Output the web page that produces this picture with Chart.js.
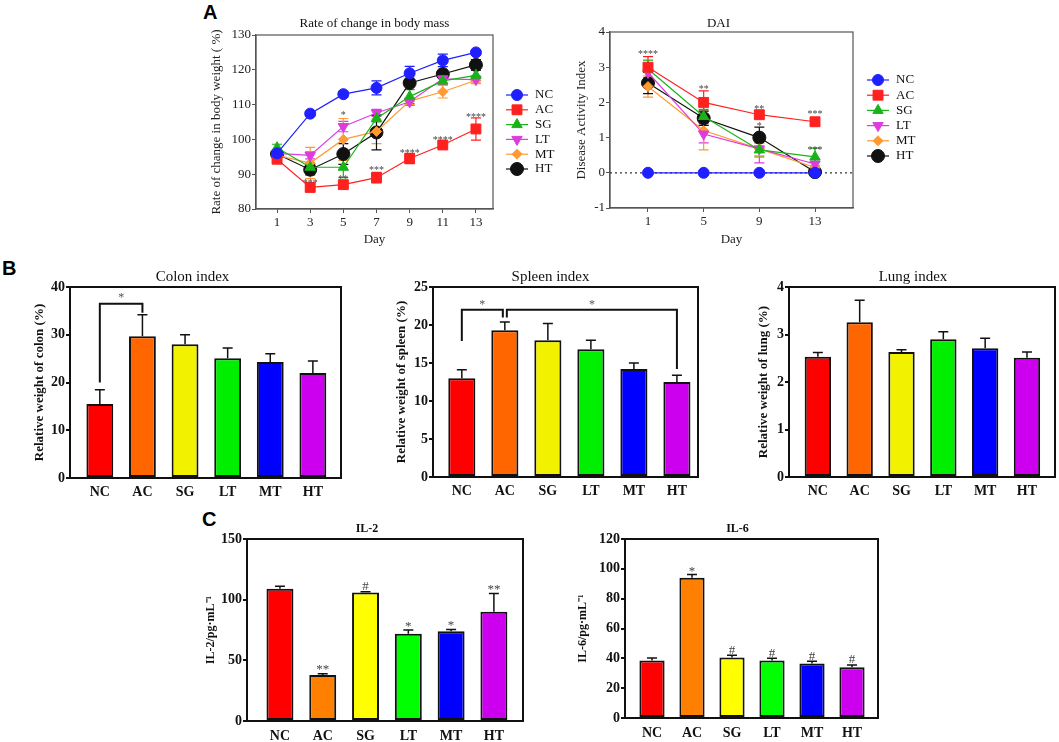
<!DOCTYPE html>
<html>
<head>
<meta charset="utf-8">
<script src="https://cdn.jsdelivr.net/npm/chart.js@4.4.1/dist/chart.umd.min.js"></script>
<style>
  body { margin: 0; background: #fff; width: 1059px; height: 742px; position: relative; overflow: hidden; }
  .box { position: absolute; }
  .tag { position: absolute; font: bold 20px "Liberation Sans", Arial, sans-serif; line-height: 20px; color: #000; }
</style>
</head>
<body>
<div class="tag" style="left:203px;top:2px">A</div>
<div class="tag" style="left:2px;top:258px">B</div>
<div class="tag" style="left:202px;top:509px">C</div>

<div class="box" style="left:205px;top:10px;width:360px;height:237px"><canvas id="body"></canvas></div>
<div class="box" style="left:570px;top:10px;width:360px;height:237px"><canvas id="dai"></canvas></div>
<div class="box" style="left:28px;top:262px;width:320px;height:238px"><canvas id="colon"></canvas></div>
<div class="box" style="left:390px;top:262px;width:315px;height:238px"><canvas id="spleen"></canvas></div>
<div class="box" style="left:752px;top:262px;width:307px;height:238px"><canvas id="lung"></canvas></div>
<div class="box" style="left:200px;top:515px;width:330px;height:227px"><canvas id="il2"></canvas></div>
<div class="box" style="left:572px;top:515px;width:313px;height:227px"><canvas id="il6"></canvas></div>

<script>
// groups
const GROUPS = ['NC', 'AC', 'SG', 'LT', 'MT', 'HT'];

// A - rate of change in body mass (%)
const BODY_DAYS = [1, 3, 5, 7, 9, 11, 13];
const BODY_NC = [96, 107.4, 113, 114.8, 119, 122.7, 125];
const BODY_AC = [94.3, 86.2, 87, 89, 94.5, 98.4, 103];
const BODY_SG = [97.6, 92, 92, 106, 112.3, 116.8, 118.4];
const BODY_LT = [96, 95.4, 103.7, 107.6, 110.8, 117.4, 117.2];
const BODY_MT = [95.4, 93.2, 100, 102.3, 111, 113.7, 117];
const BODY_HT = [95.8, 91.3, 95.8, 102, 116.2, 118.8, 121.4];
const BODY_NC_ERR = [0.8, 0.6, 0.8, 2, 2, 1.8, 0.6];
const BODY_AC_ERR = [1, 1, 0.8, 1.5, 1.5, 0.8, 3.2];
const BODY_SG_ERR = [1, 1, 3, 1, 2, 1, 1.5];
const BODY_LT_ERR = [1, 1, 1.5, 1, 1, 1.5, 1];
const BODY_MT_ERR = [1, 4.5, 6, 3.5, 1, 1.8, 1];
const BODY_HT_ERR = [1, 1.5, 3, 5, 1, 1, 1.5];
const BODY_STARS = [[3, 88.3, '***'], [5, 89.3, '**'], [5, 107.8, '*'], [7, 92, '***'],
                    [9, 96.8, '****'], [11, 100.7, '****'], [13, 107.2, '****']];

// A - disease activity index
const DAI_DAYS = [1, 5, 9, 13];
const DAI_NC = [0, 0, 0, 0];
const DAI_AC = [3.0, 2.0, 1.65, 1.45];
const DAI_SG = [2.95, 1.6, 0.65, 0.45];
const DAI_LT = [2.85, 1.1, 0.68, 0.25];
const DAI_MT = [2.45, 1.2, 0.68, 0.15];
const DAI_HT = [2.55, 1.55, 1.0, 0.02];
const DAI_NC_ERR = [0, 0, 0, 0];
const DAI_AC_ERR = [0.3, 0.33, 0.1, 0.08];
const DAI_SG_ERR = [0.25, 0.2, 0.2, 0.25];
const DAI_LT_ERR = [0.2, 0.25, 0.4, 0.15];
const DAI_MT_ERR = [0.3, 0.55, 0.2, 0.15];
const DAI_HT_ERR = [0.3, 0.2, 0.3, 0.05];
const DAI_STARS = [[1, 3.45, '****'], [5, 2.45, '**'], [9, 1.9, '**'], [9, 1.4, '*'],
                   [13, 1.75, '***'], [13, 0.72, '***']];

// B - organ indices (%)
const COLON = [15.5, 29.7, 28, 25.1, 24.3, 22];
const COLON_ERR = [3, 4.5, 2, 2.1, 1.7, 2.5];
const COLON_BRACKETS = [[0, 1, 20, 34.6, 36.5, 38.3]];   // from, to, left foot, right foot, top, star
const SPLEEN = [13, 19.3, 18, 16.8, 14.2, 12.5];
const SPLEEN_ERR = [1.1, 1.1, 2.2, 1.2, 0.8, 0.9];
const SPLEEN_BRACKETS = [[0, 1, 17.9, 21, 22, 23], [1, 5, 21, 14.2, 22, 23]];
const LUNG = [2.53, 3.26, 2.63, 2.9, 2.71, 2.51];
const LUNG_ERR = [0.09, 0.46, 0.05, 0.16, 0.21, 0.12];

// C - cytokines (pg/mL)
const IL2 = [109, 38, 106, 72, 74, 90];
const IL2_ERR = [2, 1, 0.5, 3, 1.5, 15];
const IL2_MARKS = [[1, 45, '**'], [2, 111, '#'], [3, 80, '*'], [4, 81, '*'], [5, 110.5, '**']];
const IL6 = [38.5, 94, 40.5, 38.5, 36.5, 34];
const IL6_ERR = [1.8, 2.2, 1.6, 1.5, 1.5, 1.5];
const IL6_MARKS = [[1, 100, '*'], [2, 45.5, '#'], [3, 43.5, '#'], [4, 41.5, '#'], [5, 39.5, '#']];

const SERIF = "'Liberation Serif', 'Times New Roman', serif";
Chart.defaults.font.family = SERIF;
Chart.defaults.color = '#111';
Chart.defaults.animation = false;

const LINE_COLORS = ['#1f1fff', '#ff2020', '#19b319', '#dd3ddd', '#ff9a33', '#111111'];
const MARKERS = [
  { s: 'circle', r: 0, size: 5.5 },
  { s: 'rect', r: 0, size: 7 },
  { s: 'triangle', r: 0, size: 6 },
  { s: 'triangle', r: 180, size: 6 },
  { s: 'rectRot', r: 0, size: 5 },
  { s: 'circle', r: 0, size: 6.5 }
];
const BAR_COLORS_B = ['#ff0000', '#ff6600', '#f2f200', '#00ee00', '#0000ff', '#cc00ee'];
const BAR_COLORS_C = ['#ff0000', '#ff8000', '#ffff00', '#00ff00', '#0000ff', '#cc00ee'];

// ---------- small plugins ----------
function frame(color, width) {
  return {
    id: 'frame',
    beforeDatasetsDraw(chart) {
      const a = chart.chartArea, c = chart.ctx;
      c.save();
      c.strokeStyle = color;
      c.lineWidth = width;
      c.strokeRect(a.left, a.top, a.right - a.left, a.bottom - a.top);
      c.restore();
    }
  };
}

function panelTitle(text, font, dx, gap) {
  return {
    id: 'panelTitle',
    afterDraw(chart) {
      const a = chart.chartArea, c = chart.ctx;
      c.save();
      c.font = font;
      c.fillStyle = '#111';
      c.textAlign = 'center';
      c.textBaseline = 'middle';
      c.fillText(text, (a.left + a.right) / 2 + dx, a.top - gap);
      c.restore();
    }
  };
}

// both = true: symmetric bars with two caps (line charts); false: upward only (bar charts)
function errorBars(both, cap, width) {
  const hook = both ? 'beforeDatasetsDraw' : 'afterDatasetsDraw';
  return {
    id: 'errorBars',
    [hook](chart) {
      const c = chart.ctx, xs = chart.scales.x, ys = chart.scales.y;
      chart.data.datasets.forEach(ds => {
        if (!ds.errors) return;
        ds.data.forEach((p, i) => {
          const e = ds.errors[i];
          if (!e) return;
          const x = xs.getPixelForValue(p.x);
          const top = ys.getPixelForValue(p.y + e);
          const bot = both ? ys.getPixelForValue(p.y - e) : ys.getPixelForValue(p.y);
          c.save();
          c.strokeStyle = ds.borderColor;
          c.lineWidth = width;
          c.beginPath();
          c.moveTo(x, bot); c.lineTo(x, top);
          c.moveTo(x - cap, top); c.lineTo(x + cap, top);
          if (both) { c.moveTo(x - cap, bot); c.lineTo(x + cap, bot); }
          c.stroke();
          c.restore();
        });
      });
    }
  };
}

function marks(list, font, color) {
  return {
    id: 'marks',
    afterDatasetsDraw(chart) {
      const c = chart.ctx, xs = chart.scales.x, ys = chart.scales.y;
      c.save();
      c.font = font;
      c.fillStyle = color;
      c.textAlign = 'center';
      c.textBaseline = 'middle';
      list.forEach(([x, y, t]) => {
        const nudge = t.indexOf('*') >= 0 ? 3 : 0;   // asterisks sit high in the em box
        c.fillText(t, xs.getPixelForValue(x), ys.getPixelForValue(y) + nudge);
      });
      c.restore();
    }
  };
}

function brackets(list) {
  return {
    id: 'brackets',
    afterDatasetsDraw(chart) {
      const c = chart.ctx, xs = chart.scales.x, ys = chart.scales.y;
      c.save();
      c.strokeStyle = '#111';
      c.lineWidth = 2;
      list.forEach(([a, b, fa, fb, top, star], k) => {
        // split the shared leg when two brackets meet at one bar
        const da = list.some((o, j) => j !== k && o[1] === a) ? 2 : 0;
        const db = list.some((o, j) => j !== k && o[0] === b) ? -2 : 0;
        const x1 = xs.getPixelForValue(a) + da, x2 = xs.getPixelForValue(b) + db;
        const yt = ys.getPixelForValue(top);
        c.beginPath();
        c.moveTo(x1, ys.getPixelForValue(fa));
        c.lineTo(x1, yt);
        c.lineTo(x2, yt);
        c.lineTo(x2, ys.getPixelForValue(fb));
        c.stroke();
        c.font = '12px ' + SERIF;
        c.fillStyle = '#555';
        c.textAlign = 'center';
        c.textBaseline = 'middle';
        c.fillText('*', (x1 + x2) / 2, ys.getPixelForValue(star) + 3);
      });
      c.restore();
    }
  };
}

function zeroLine() {
  return {
    id: 'zeroLine',
    beforeDatasetsDraw(chart) {
      const a = chart.chartArea, c = chart.ctx, y = chart.scales.y.getPixelForValue(0);
      c.save();
      c.strokeStyle = '#333';
      c.lineWidth = 1.3;
      c.setLineDash([2, 3]);
      c.beginPath();
      c.moveTo(a.left, y); c.lineTo(a.right, y);
      c.stroke();
      c.restore();
    }
  };
}

function seriesKey(x, y0, step, half) {
  return {
    id: 'seriesKey',
    afterDraw(chart) {
      const c = chart.ctx;
      chart.data.datasets.forEach((ds, i) => {
        const y = y0 + i * step;
        c.save();
        c.strokeStyle = ds.borderColor;
        c.fillStyle = ds.backgroundColor;
        c.lineWidth = 1.2;
        c.beginPath();
        c.moveTo(x - half, y); c.lineTo(x + half, y);
        c.stroke();
        if (Chart.helpers && Chart.helpers.drawPoint) {
          c.lineWidth = 1;
          Chart.helpers.drawPoint(c, { pointStyle: ds.pointStyle, rotation: ds.pointRotation || 0,
                                       radius: ds.pointRadius, borderWidth: 1 }, x, y);
        }
        c.fillStyle = '#111';
        c.font = '13px ' + SERIF;
        c.textAlign = 'left';
        c.textBaseline = 'middle';
        c.fillText(ds.label, x + half + 7, y);
        c.restore();
      });
    }
  };
}

// ---------- chart builders ----------
function lineChart(id, o) {
  const datasets = GROUPS.map((g, k) => ({
    label: g,
    data: o.days.map((d, i) => ({ x: d, y: o.series[k][i] })),
    errors: o.errs[k],
    borderColor: LINE_COLORS[k],
    backgroundColor: LINE_COLORS[k],
    borderWidth: 1.2,
    pointStyle: MARKERS[k].s,
    pointRotation: MARKERS[k].r,
    pointRadius: MARKERS[k].size,
    pointBorderWidth: 1,
    tension: 0,
    fill: false
  }));
  const AX = '#555';
  return new Chart(document.getElementById(id), {
    type: 'line',
    data: { datasets },
    options: {
      responsive: true,
      maintainAspectRatio: false,
      events: [],
      layout: { padding: { top: o.padTop, right: o.padRight, left: 0, bottom: 0 } },
      plugins: { legend: { display: false }, tooltip: { enabled: false } },
      scales: {
        x: {
          type: 'linear', min: o.xmin, max: o.xmax,
          afterBuildTicks: s => { s.ticks = o.days.map(v => ({ value: v })); },
          afterFit: s => { s.height = o.xh; },
          grid: { drawOnChartArea: false, tickLength: 4, color: AX },
          border: { color: AX, width: 1.2 },
          ticks: { padding: 2, font: { size: 13 }, color: '#222', maxRotation: 0 },
          title: { display: true, text: 'Day', font: { size: 13 }, color: '#222', padding: 0 }
        },
        y: {
          min: o.ymin, max: o.ymax,
          ticks: { stepSize: o.step, padding: 1, font: { size: 13 }, color: '#222' },
          afterFit: s => { s.width = o.yw; },
          grid: { drawOnChartArea: false, tickLength: 4, color: AX },
          border: { color: AX, width: 1.2 },
          title: { display: true, text: o.ytitle, font: { size: 13 }, color: '#222', padding: { top: 4, bottom: 0 } }
        }
      }
    },
    plugins: [frame(AX, 1.2), o.zero ? zeroLine() : { id: 'noZero' }, errorBars(true, 5, 1.2),
              marks(o.stars, '10px ' + SERIF, '#444'),
              panelTitle(o.title, '13px ' + SERIF, o.titleDx, o.tgap), seriesKey(o.key[0], o.key[1], o.key[2], 11)]
  });
}

function barChart(id, o) {
  const extra = [];
  if (o.brackets) extra.push(brackets(o.brackets));
  if (o.marks) extra.push(marks(o.marks, '13px ' + SERIF, '#444'));
  return new Chart(document.getElementById(id), {
    type: 'bar',
    data: {
      datasets: [{
        data: o.values.map((v, i) => ({ x: i, y: v })),
        errors: o.errs,
        backgroundColor: o.colors,
        borderColor: '#111',
        borderWidth: 2,
        borderSkipped: false,
        barPercentage: 0.63,
        categoryPercentage: 1
      }]
    },
    options: {
      responsive: true,
      maintainAspectRatio: false,
      events: [],
      layout: { padding: { top: o.padTop, right: o.padRight, left: 0, bottom: 0 } },
      plugins: { legend: { display: false }, tooltip: { enabled: false } },
      scales: {
        x: {
          type: 'linear', offset: false, min: o.xmin, max: o.xmax,
          afterBuildTicks: s => { s.ticks = GROUPS.map((g, i) => ({ value: i })); },
          afterFit: s => { s.height = o.xh; },
          grid: { display: false, drawTicks: false, tickLength: 0, offset: false },
          border: { color: '#111', width: 2 },
          ticks: { callback: v => GROUPS[v], padding: o.xpad, font: { size: 14, weight: 'bold' }, color: '#111', maxRotation: 0 }
        },
        y: {
          min: 0, max: o.ymax,
          ticks: { stepSize: o.step, padding: 1, font: { size: 14, weight: 'bold' }, color: '#111' },
          afterFit: s => { s.width = o.yw; },
          grid: { drawOnChartArea: false, tickLength: 4, color: '#111', lineWidth: 2 },
          border: { color: '#111', width: 2 },
          title: { display: true, text: o.ytitle, font: { size: o.yfont, weight: 'bold' }, color: '#111', padding: { top: 4, bottom: 0 } }
        }
      }
    },
    plugins: [frame('#111', 2), errorBars(false, 5, 1.5), ...extra, panelTitle(o.title, o.tfont, o.titleDx, o.tgap)]
  });
}

// ---------- panel A ----------
lineChart('body', {
  days: BODY_DAYS,
  series: [BODY_NC, BODY_AC, BODY_SG, BODY_LT, BODY_MT, BODY_HT],
  errs: [BODY_NC_ERR, BODY_AC_ERR, BODY_SG_ERR, BODY_LT_ERR, BODY_MT_ERR, BODY_HT_ERR],
  stars: BODY_STARS,
  xmin: -0.27, xmax: 14.03, ymin: 80, ymax: 130, step: 10,
  padTop: 25, padRight: 72, yw: 51, xh: 38,
  ytitle: 'Rate of change in body weight ( %)',
  title: 'Rate of change in body mass', titleDx: 0, tgap: 11,
  key: [312, 85, 14.8]
});

lineChart('dai', {
  days: DAI_DAYS,
  series: [DAI_NC, DAI_AC, DAI_SG, DAI_LT, DAI_MT, DAI_HT],
  errs: [DAI_NC_ERR, DAI_AC_ERR, DAI_SG_ERR, DAI_LT_ERR, DAI_MT_ERR, DAI_HT_ERR],
  stars: DAI_STARS,
  xmin: -1.73, xmax: 15.73, ymin: -1, ymax: 4, step: 1,
  padTop: 22, padRight: 77, yw: 40, xh: 39,
  ytitle: 'Disease Activity Index',
  title: 'DAI', titleDx: -13, tgap: 8,
  key: [308, 70, 15.2], zero: true
});

// ---------- panel B ----------
barChart('colon', {
  values: COLON, errs: COLON_ERR, colors: BAR_COLORS_B, brackets: COLON_BRACKETS,
  xmin: -0.7, xmax: 5.66, ymax: 40, step: 10,
  padTop: 25, padRight: 7, yw: 42, xh: 22, xpad: 6,
  ytitle: 'Relative weight of colon (%)', yfont: 13,
  title: 'Colon index', tfont: '15px ' + SERIF, titleDx: -13, tgap: 10
});

barChart('spleen', {
  values: SPLEEN, errs: SPLEEN_ERR, colors: BAR_COLORS_B, brackets: SPLEEN_BRACKETS,
  xmin: -0.67, xmax: 5.49, ymax: 25, step: 5,
  padTop: 25, padRight: 7, yw: 43, xh: 23, xpad: 6,
  ytitle: 'Relative weight of spleen (%)', yfont: 13,
  title: 'Spleen index', tfont: '15px ' + SERIF, titleDx: -15, tgap: 10
});

barChart('lung', {
  values: LUNG, errs: LUNG_ERR, colors: BAR_COLORS_B,
  xmin: -0.69, xmax: 5.67, ymax: 4, step: 1,
  padTop: 25, padRight: 4, yw: 37, xh: 23, xpad: 6,
  ytitle: 'Relative weight of lung (%)', yfont: 13,
  title: 'Lung index', tfont: '15px ' + SERIF, titleDx: -9, tgap: 10
});

// ---------- panel C ----------
barChart('il2', {
  values: IL2, errs: IL2_ERR, colors: BAR_COLORS_C, marks: IL2_MARKS,
  xmin: -0.77, xmax: 5.68, ymax: 150, step: 50,
  padTop: 24, padRight: 7, yw: 47, xh: 21, xpad: 7,
  ytitle: 'IL-2/pg·mL⁻¹', yfont: 12,
  title: 'IL-2', tfont: 'bold 12px ' + SERIF, titleDx: -18, tgap: 10
});

barChart('il6', {
  values: IL6, errs: IL6_ERR, colors: BAR_COLORS_C, marks: IL6_MARKS,
  xmin: -0.675, xmax: 5.65, ymax: 120, step: 20,
  padTop: 24, padRight: 7, yw: 53, xh: 24, xpad: 7,
  ytitle: 'IL-6/pg·mL⁻¹', yfont: 12,
  title: 'IL-6', tfont: 'bold 12px ' + SERIF, titleDx: -14, tgap: 10
});
</script>
</body>
</html>
